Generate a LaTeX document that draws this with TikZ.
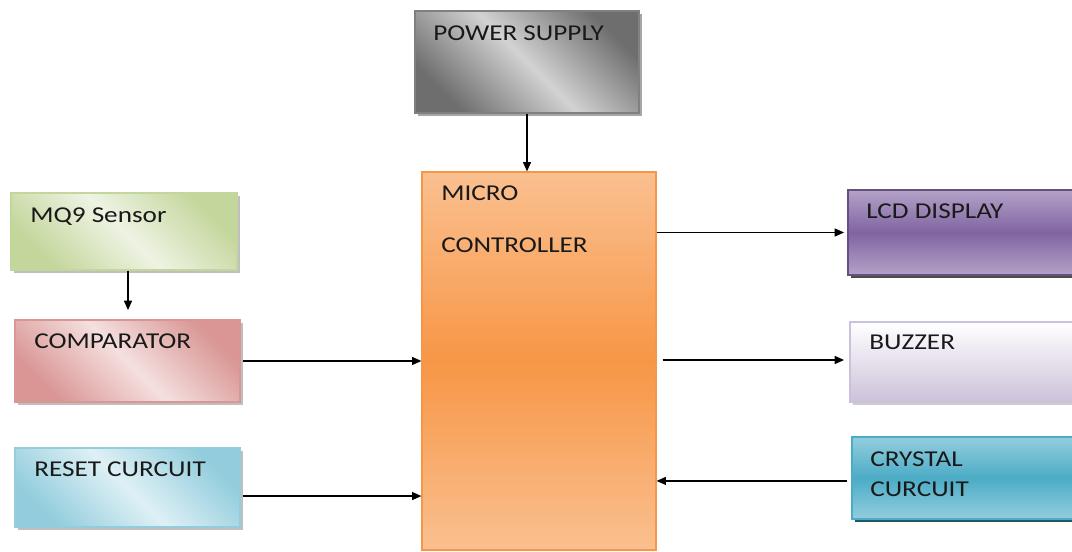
\documentclass[tikz,border=0pt]{standalone}
\usepackage{fontspec}
\setmainfont{Carlito}[FakeStretch=1.2]
\usetikzlibrary{arrows.meta,shadows,calc}
\definecolor{psdark}{HTML}{6E6E6E}\definecolor{pslight}{HTML}{D2D2D2}
\definecolor{mqdark}{HTML}{C3D69B}\definecolor{mqlight}{HTML}{EEF3E3}
\definecolor{cmdark}{HTML}{D99694}\definecolor{cmlight}{HTML}{F4E0DF}
\definecolor{rsdark}{HTML}{93CDDD}\definecolor{rslight}{HTML}{DEF0F5}
\definecolor{lcdlight}{HTML}{B3A2C7}\definecolor{lcddark}{HTML}{8064A2}
\definecolor{bzdark}{HTML}{CCC1DA}
\definecolor{cydark}{HTML}{4BACC6}\definecolor{cylight}{HTML}{93CDDD}
\definecolor{mclight}{HTML}{FAC090}\definecolor{mcdark}{HTML}{F79646}
\tikzset{
  box/.style={rectangle, inner sep=0pt, line width=0.9pt},
  shad/.style={drop shadow={shadow xshift=2pt, shadow yshift=-2pt, fill=#1, opacity=1}},
  lbl/.style={anchor=base west, inner sep=0pt, font=\fontsize{17pt}{20pt}\selectfont, text=black!90},
  arr/.style={-{Triangle[length=7pt,width=6pt]}, line width=0.9pt, black},
}
\begin{document}
\begin{tikzpicture}[x=0.75pt,y=-0.75pt]
\useasboundingbox (0,0) rectangle (1072,552);
% boxes
\node[box, shad=black!35, draw=gray, top color=psdark, bottom color=psdark, middle color=pslight, shading angle=-45,
  minimum width=224*0.75pt, minimum height=102*0.75pt] (ps) at (527,62) {};
\node[box, draw=mcdark, top color=mclight, bottom color=mclight, middle color=mcdark,
  minimum width=234*0.75pt, minimum height=378*0.75pt] (micro) at (539,361) {};
\node[box, shad=black!25, draw=mqdark, top color=mqdark, bottom color=mqdark, middle color=mqlight, shading angle=-45,
  minimum width=226*0.75pt, minimum height=77*0.75pt] (mq9) at (124,231.5) {};
\node[box, shad=black!25, draw=cmdark, top color=cmdark, bottom color=cmdark, middle color=cmlight, shading angle=-45,
  minimum width=225*0.75pt, minimum height=82*0.75pt] (comp) at (127.5,361) {};
\node[box, shad=black!25, draw=rsdark, top color=rsdark, bottom color=rsdark, middle color=rslight, shading angle=-45,
  minimum width=225*0.75pt, minimum height=79*0.75pt] (reset) at (127.5,487.5) {};
\node[box, shad=black!70, draw=lcddark!80!black, top color=lcdlight, bottom color=lcdlight, middle color=lcddark,
  minimum width=232*0.75pt, minimum height=85*0.75pt] (lcd) at (964,232.5) {};
\node[box, shad=black!20, draw=bzdark, top color=white, bottom color=bzdark,
  minimum width=230*0.75pt, minimum height=80*0.75pt] (buzz) at (965,362) {};
\node[box, shad=cydark!50!black, draw=cydark, top color=cylight, bottom color=cylight, middle color=cydark,
  minimum width=228*0.75pt, minimum height=82*0.75pt] (crys) at (966,478) {};
% labels
\node[lbl] (pst) at (433,41) {POWER SUPPLY};
\node[lbl] (mct1) at (441,201) {MICRO};
\node[lbl] (mct2) at (441,253) {CONTROLLER};
\node[lbl] (mqt) at (30,223) {MQ9 Sensor};
\node[lbl] (cmt) at (34,349) {COMPARATOR};
\node[lbl] (rst) at (34,477) {RESET CURCUIT};
\node[lbl] (lcdt) at (866,219) {LCD DISPLAY};
\node[lbl] (bzt) at (869,350) {BUZZER};
\node[lbl] (cyt1) at (870,466) {CRYSTAL};
\node[lbl] (cyt2) at (870,497) {CURCUIT};
% connectors
\draw[arr] (ps.south) -- (ps.south |- micro.north);
\draw[arr, shorten >=7pt] ([xshift=3pt]mq9.south) -- ([xshift=3pt]mq9.south |- comp.north);
\draw[arr] ([xshift=1.5pt]comp.east) -- (comp.east -| micro.west);
\draw[arr] ([xshift=1.5pt,yshift=-6.4pt]reset.east) -- ([yshift=-6.4pt]reset.east -| micro.west);
\draw[arr, shorten >=2.5pt] (micro.east |- lcd.west) -- (lcd.west);
\draw[arr, shorten <=4.5pt, shorten >=4pt] ([yshift=1.5pt]micro.east |- buzz.west) -- ([yshift=1.5pt]buzz.west);
\draw[arr, shorten <=3pt] ([yshift=-2.2pt]crys.west) -- ([yshift=-2.2pt]crys.west -| micro.east);
\end{tikzpicture}
\end{document}
